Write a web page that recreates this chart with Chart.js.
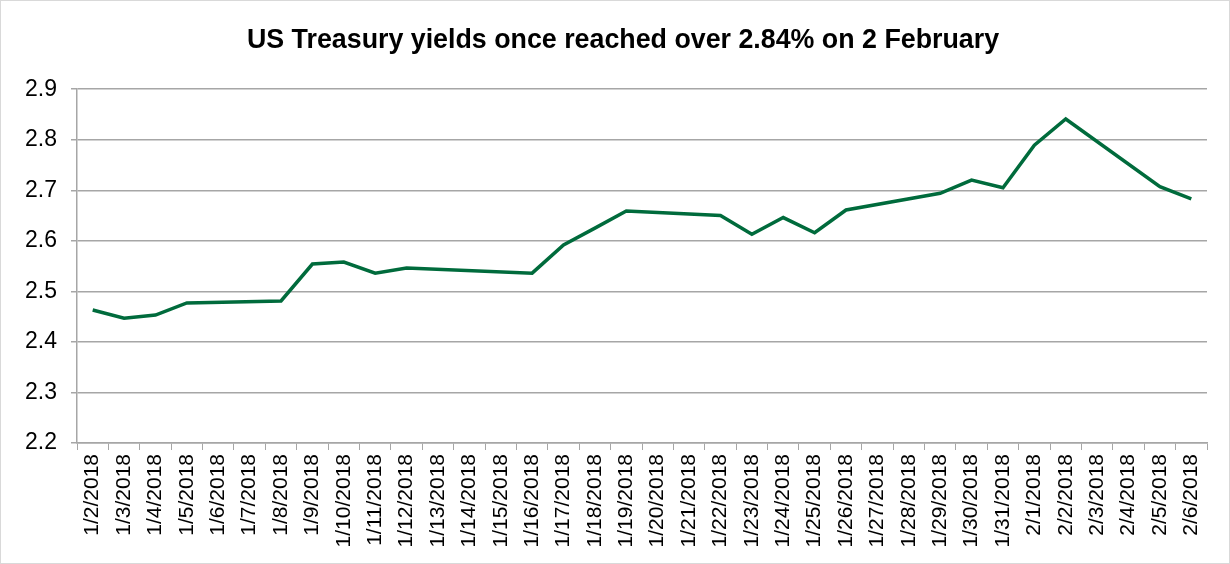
<!DOCTYPE html>
<html>
<head>
<meta charset="utf-8">
<script src="https://cdn.jsdelivr.net/npm/chart.js@4"></script>
<style>
  body { margin: 0; background: #fff; }
  #wrap { width: 1230px; height: 564px; box-sizing: border-box; border: 1px solid #d9d9d9; }
  canvas { display: block; }
</style>
</head>
<body>
<div id="wrap"><canvas id="yieldChart" width="1228" height="562"></canvas></div>
<script>
const chartTitle = 'US Treasury yields once reached over 2.84% on 2 February';

// one label per calendar day, null = no quote (weekend / holiday)
const dates = [
    '1/2/2018', '1/3/2018', '1/4/2018', '1/5/2018', '1/6/2018', '1/7/2018', '1/8/2018',
    '1/9/2018', '1/10/2018', '1/11/2018', '1/12/2018', '1/13/2018', '1/14/2018', '1/15/2018',
    '1/16/2018', '1/17/2018', '1/18/2018', '1/19/2018', '1/20/2018', '1/21/2018', '1/22/2018',
    '1/23/2018', '1/24/2018', '1/25/2018', '1/26/2018', '1/27/2018', '1/28/2018', '1/29/2018',
    '1/30/2018', '1/31/2018', '2/1/2018', '2/2/2018', '2/3/2018', '2/4/2018', '2/5/2018', '2/6/2018'
];
const yields = [
    2.463, 2.447, 2.453, 2.477, null, null, 2.481,
    2.554, 2.558, 2.536, 2.546, null, null, null,
    2.536, 2.592, 2.625, 2.659, null, null, 2.650,
    2.613, 2.646, 2.616, 2.661, null, null, 2.694,
    2.720, 2.705, 2.789, 2.841, null, null, 2.707, 2.683
];
const yMin = 2.2;
const yMax = 2.9;
const yStep = 0.1;

const font = "'Liberation Sans', Arial, sans-serif";
const gridColor = '#a6a6a6';

const ctx = document.getElementById('yieldChart').getContext('2d');
new Chart(ctx, {
    type: 'line',
    data: {
        labels: dates,
        datasets: [{
            label: 'US 10Y',
            data: yields,
            borderColor: '#006b3c',
            borderWidth: 3.5,
            pointRadius: 0,
            tension: 0,
            spanGaps: true,
            fill: false
        }]
    },
    options: {
        responsive: false,
        animation: false,
        layout: { padding: { left: 16, right: 0, top: 0, bottom: 0 } },
        plugins: {
            legend: { display: false },
            tooltip: { enabled: false },
            title: {
                display: true,
                text: chartTitle,
                color: '#000',
                font: { family: font, size: 26.8, weight: 'bold', lineHeight: 1.2 },
                padding: { top: 24, bottom: 32 }
            }
        },
        scales: {
            x: {
                type: 'category',
                offset: true,
                grid: {
                    offset: true,
                    drawOnChartArea: false,
                    color: gridColor,
                    tickLength: 7
                },
                border: { color: gridColor, width: 1.5 },
                ticks: {
                    color: '#000',
                    font: { family: font, size: 21 },
                    minRotation: 90,
                    maxRotation: 90,
                    autoSkip: false,
                    padding: 4
                },
                afterFit: s => { s.height = 120; }
            },
            y: {
                min: yMin,
                max: yMax,
                grid: { color: gridColor, lineWidth: 1.5, tickLength: 6 },
                border: { color: gridColor, width: 1.5 },
                ticks: {
                    stepSize: yStep,
                    color: '#000',
                    font: { family: font, size: 23 },
                    padding: 14,
                    callback: v => v.toFixed(1)
                },
                afterFit: s => { s.width = 60; }
            },
            // empty spacer on the right so the title centres like the original
            spacer: {
                type: 'linear',
                position: 'right',
                grid: { display: false },
                border: { display: false },
                ticks: { display: false },
                afterFit: s => { s.width = 22; }
            }
        }
    }
});
</script>
</body>
</html>
